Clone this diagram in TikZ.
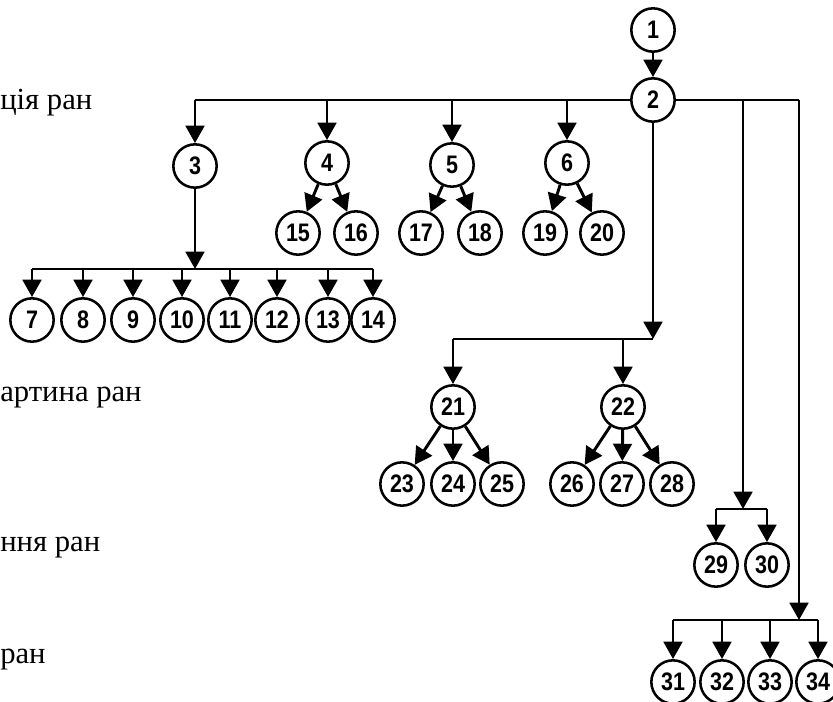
\documentclass[tikz,border=0pt]{standalone}
\usepackage{fontspec}
\setmainfont{Liberation Serif}
\newfontfamily\numfont[FakeStretch=0.85]{Liberation Sans}
\usetikzlibrary{arrows.meta}
\begin{document}
\begin{tikzpicture}[x=0.75pt,y=-0.75pt,
  nd/.style={circle,draw,line width=1.9pt,minimum size=32.5pt,inner sep=0pt,
    font=\numfont\bfseries\fontsize{19}{19}\selectfont},
  ln/.style={line width=2.2pt},
  ar/.style={line width=2.2pt,-{Triangle[width=14pt,length=13pt]}},
  lbl/.style={anchor=west,inner sep=0pt,font=\fontsize{23}{27}\selectfont}]
\useasboundingbox (0,0) rectangle (833,702);
% nodes
\node[nd] (n1) at (653,30) {1};
\node[nd] (n2) at (653,100) {2};
\node[nd] (n3) at (195,166) {3};
\node[nd] (n4) at (327,163) {4};
\node[nd] (n5) at (452,165) {5};
\node[nd] (n6) at (567,163) {6};
\node[nd] (n15) at (298,233) {15};
\node[nd] (n16) at (356,233) {16};
\node[nd] (n17) at (421,233) {17};
\node[nd] (n18) at (480,233) {18};
\node[nd] (n19) at (545,233) {19};
\node[nd] (n20) at (602,233) {20};
\foreach \i/\x in {7/32,8/83,9/133,10/182,11/230,12/277,13/328,14/373}
  \node[nd] (n\i) at (\x,320) {\i};
\node[nd] (n21) at (453,407) {21};
\node[nd] (n22) at (623,407) {22};
\foreach \i/\x in {23/402,24/453,25/502,26/572,27/622,28/672}
  \node[nd] (n\i) at (\x,484) {\i};
\node[nd] (n29) at (716,565) {29};
\node[nd] (n30) at (767,565) {30};
\foreach \i/\x in {31/673,32/722,33/770,34/818}
  \node[nd] (n\i) at (\x,682) {\i};
% junction coordinates
\coordinate (t3) at (195,100);
\coordinate (t4) at (327,100);
\coordinate (t5) at (452,100);
\coordinate (t6) at (567,100);
\coordinate (tA) at (743,100);
\coordinate (tB) at (799,100);
\coordinate (j3) at (195,269);
\coordinate (h7) at (32,269);
\coordinate (h14) at (373,269);
\coordinate (j2) at (653,339);
\coordinate (h21) at (453,339);
\coordinate (h22) at (623,339);
\coordinate (jA) at (743,509);
\coordinate (h29) at (716,509);
\coordinate (h30) at (767,509);
\coordinate (jB) at (799,620);
\coordinate (h31) at (673,620);
\coordinate (h34) at (818,620);
% connectors
\draw[ar] (n1) -- (n2);
\draw[ln] (n2.west) -- (t3);
\draw[ln] (n2.east) -- (tB);
\foreach \k in {3,4,5,6} \draw[ar] (t\k) -- (n\k);
\draw[ar] (n4) -- (n15);
\draw[ar] (n4) -- (n16);
\draw[ar] (n5) -- (n17);
\draw[ar] (n5) -- (n18);
\draw[ar] (n6) -- (n19);
\draw[ar] (n6) -- (n20);
\draw[ar] (n3) -- (j3);
\draw[ln] (h7) -- (h14);
\foreach \i in {7,...,14} \draw[ar] (n\i|-j3) -- (n\i);
\draw[ar] (n2) -- (j2);
\draw[ln] (h21) -- (j2);
\draw[ar] (h21) -- (n21);
\draw[ar] (h22) -- (n22);
\draw[ar] (n21) -- (n23);
\draw[ar] (n21) -- (n24);
\draw[ar] (n21) -- (n25);
\draw[ar] (n22) -- (n26);
\draw[ar] (n22) -- (n27);
\draw[ar] (n22) -- (n28);
\draw[ar] (tA) -- (jA);
\draw[ln] (h29) -- (h30);
\draw[ar] (h29) -- (n29);
\draw[ar] (h30) -- (n30);
\draw[ar] (tB) -- (jB);
\draw[ln] (h31) -- (h34);
\foreach \i in {31,...,34} \draw[ar] (n\i|-jB) -- (n\i);
% labels
\node[lbl] (l1) at (0,103) {ція ран};
\node[lbl] (l2) at (0,398) {артина ран};
\node[lbl] (l3) at (0,548) {ння ран};
\node[lbl] (l4) at (0,660) {ран};
\end{tikzpicture}
\end{document}
